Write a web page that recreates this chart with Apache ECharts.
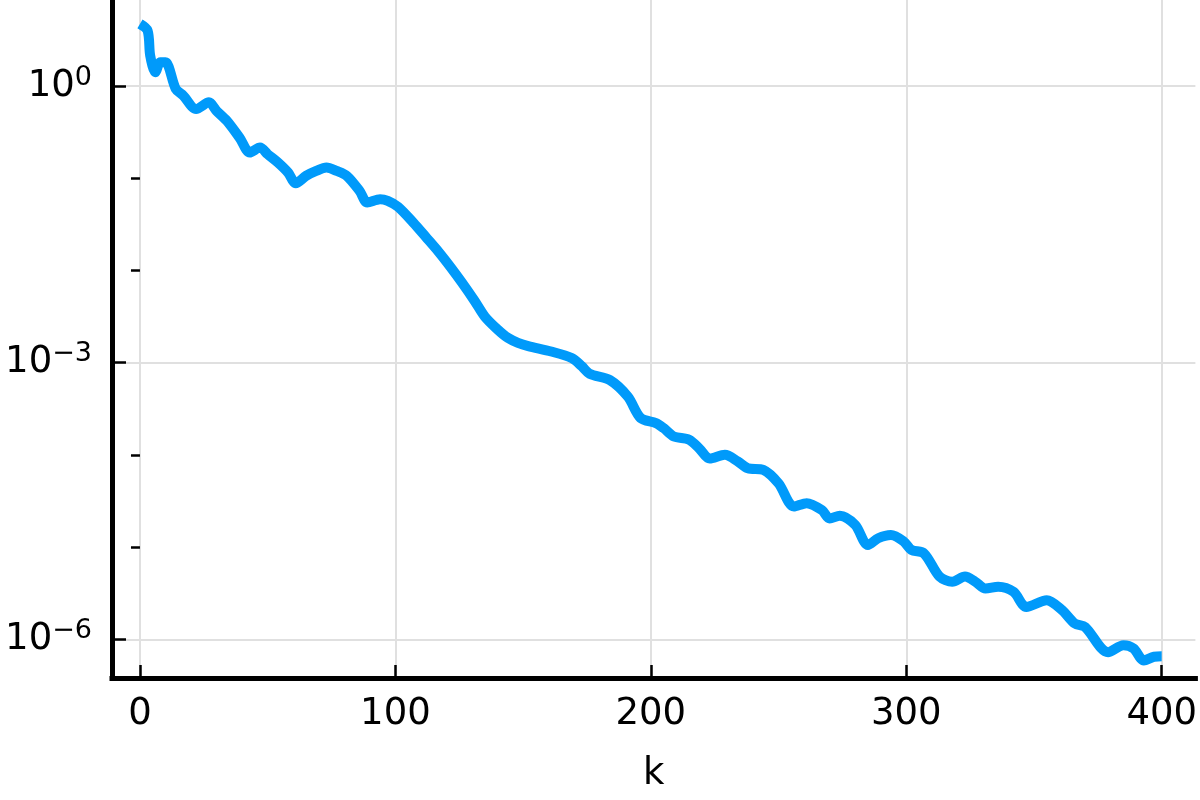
<!DOCTYPE html>
<html>
<head>
<meta charset="utf-8">
<script src="https://cdn.jsdelivr.net/npm/echarts@6/dist/echarts.min.js"></script>
<style>
  html, body { margin: 0; padding: 0; background: #fff; }
  #main { width: 1200px; height: 800px; }
</style>
</head>
<body>
<div id="main"></div>
<script>
// iteration index k
var kValues = [0, 3, 4, 6, 8, 10, 14, 17, 22, 27, 30, 34, 39, 43, 47, 50, 54, 58, 61, 65,
  69, 73, 77, 81, 86, 89, 94, 97, 101, 107, 112, 117, 122, 126, 131, 135, 140, 144, 148, 152,
  161, 169, 173, 176, 184, 191, 196, 202, 205, 209, 215, 219, 223, 229, 234, 238, 244, 250, 256, 261, 267,
  270, 274, 280, 285, 289, 294, 299, 302, 307, 313, 318, 323, 327, 331, 336, 342, 347, 355, 361, 366,
  370, 379, 385, 389, 393, 397, 400];
// error at iteration k
var errValues = [4.72, 3.98, 2.14, 1.41, 1.81, 1.81, 0.933, 0.785, 0.562, 0.665, 0.537, 0.42, 0.275, 0.19, 0.215, 0.182, 0.148, 0.115, 0.0883, 0.106,
  0.12, 0.1306, 0.12, 0.106, 0.0728, 0.0545, 0.0592, 0.0568, 0.049, 0.033, 0.0229, 0.0158, 0.0105, 0.00741, 0.00468, 0.00316, 0.00229, 0.00186, 0.00164, 0.00151,
  0.00132, 0.00112, 9.12e-4, 7.59e-4, 6.46e-4, 4.27e-4, 2.51e-4, 2.21e-4, 1.95e-4, 1.58e-4, 1.46e-4, 1.17e-4, 9.12e-5, 1.0e-4, 8.5e-5, 7.16e-5, 6.87e-5, 4.9e-5, 2.75e-5, 2.99e-5, 2.51e-5,
  2.04e-5, 2.19e-5, 1.74e-5, 1.05e-5, 1.245e-5, 1.35e-5, 1.15e-5, 9.33e-6, 8.51e-6, 4.79e-6, 4.21e-6, 4.79e-6, 4.21e-6, 3.55e-6, 3.72e-6, 3.27e-6, 2.24e-6, 2.65e-6, 2.07e-6, 1.48e-6,
  1.36e-6, 7.24e-7, 8.61e-7, 7.94e-7, 5.89e-7, 6.46e-7, 6.53e-7];

var xTicks = [0, 100, 200, 300, 400];
var yMajorTicks = [1e-6, 1e-3, 1];
var yMinorTicks = [1e-5, 1e-4, 1e-2, 1e-1];

var seriesData = kValues.map(function (k, i) { return [k, errValues[i]]; });

var font = 'DejaVu Sans';
var gridLine = { show: true, lineStyle: { color: '#e0e0e0', width: 2 } };
var yMin = 3.8e-7, yMax = 8.57;

var chart = echarts.init(document.getElementById('main'));
chart.setOption({
  backgroundColor: '#fff',
  animation: false,
  grid: { left: 112, right: 3, top: 0, bottom: 122, containLabel: false },
  xAxis: {
    type: 'value',
    min: -10.95,
    max: 413.2,
    name: 'k',
    nameLocation: 'middle',
    nameGap: 78,
    nameTextStyle: { fontFamily: font, fontSize: 37, color: '#000' },
    axisLine: { show: true, onZero: false, lineStyle: { color: '#000', width: 5, cap: 'square' } },
    axisTick: { show: true, inside: true, length: 13, customValues: xTicks, lineStyle: { color: '#000', width: 2.5 } },
    axisLabel: { customValues: xTicks, margin: 18, fontFamily: font, fontSize: 37, color: '#000' },
    splitLine: gridLine
  },
  yAxis: [{
    type: 'log',
    position: 'left',
    min: yMin,
    max: yMax,
    axisLine: { show: true, onZero: false, lineStyle: { color: '#000', width: 5, cap: 'square' } },
    axisTick: { show: true, inside: true, length: 14, customValues: yMajorTicks, lineStyle: { color: '#000', width: 2.5 } },
    axisLabel: {
      customValues: yMajorTicks,
      margin: 20,
      formatter: function (v) {
        var e = Math.round(Math.log10(v));
        return '{b|10}{s|' + (e < 0 ? '\u2212' + (-e) : e) + '}';
      },
      rich: {
        b: { fontFamily: font, fontSize: 37, lineHeight: 44, color: '#000', verticalAlign: 'middle' },
        s: { fontFamily: font, fontSize: 27, lineHeight: 27, color: '#000', verticalAlign: 'top' }
      }
    },
    splitLine: gridLine
  }, {
    type: 'log',
    position: 'left',
    min: yMin,
    max: yMax,
    axisLine: { show: false },
    axisTick: { show: true, inside: false, length: 9, customValues: yMinorTicks, lineStyle: { color: '#000', width: 2.5 } },
    axisLabel: { show: false },
    splitLine: { show: false }
  }],
  series: [{
    type: 'line',
    data: seriesData,
    showSymbol: false,
    smooth: 0.3,
    clip: true,
    lineStyle: { color: '#009AFA', width: 10 }
  }]
});
</script>
</body>
</html>
